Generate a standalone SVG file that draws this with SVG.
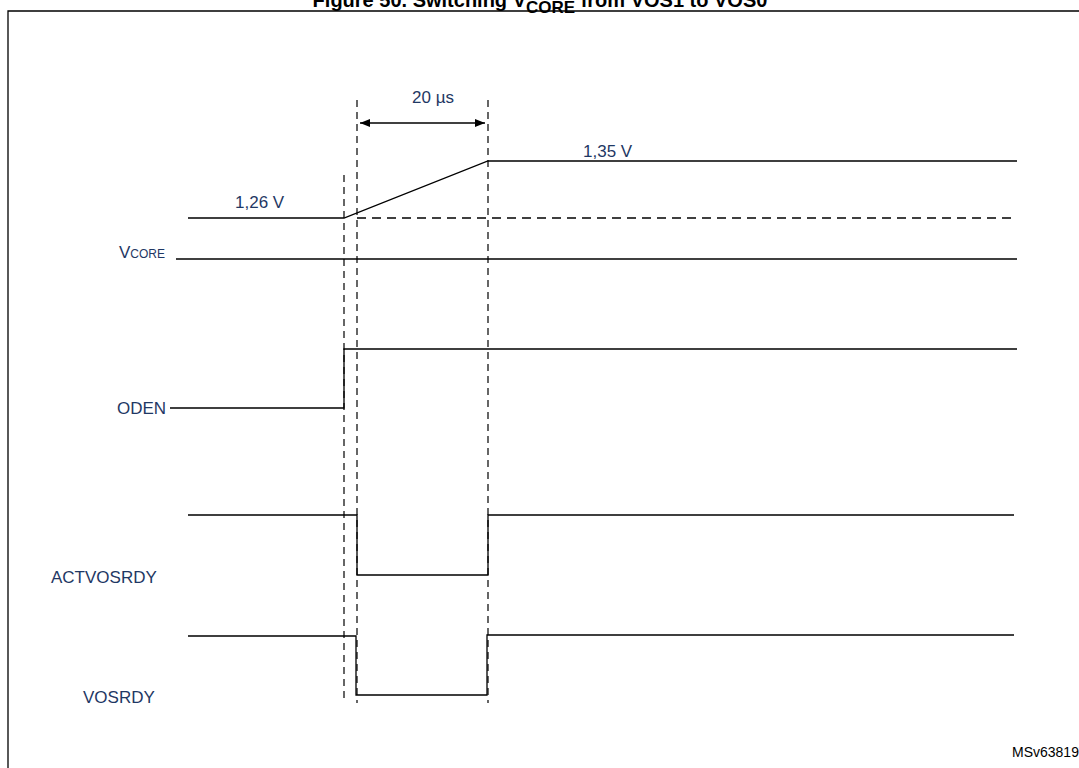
<svg xmlns="http://www.w3.org/2000/svg" width="1079" height="768" viewBox="0 0 1079 768">
<style>
.s{stroke:#000;stroke-width:1.3;fill:none}
.d{stroke:#000;stroke-width:1.2;fill:none;stroke-dasharray:7,5}
.t{font-family:"Liberation Sans",Arial,sans-serif;font-size:17px;fill:#1f3864}
</style>
<defs><marker id="a" viewBox="0 0 10 10" refX="10" refY="5" markerWidth="8" markerHeight="8" orient="auto-start-reverse"><path d="M0,1 L10,5 L0,9 z" fill="#000"/></marker></defs>
<rect width="1079" height="768" fill="#fff"/>
<text x="540" y="7" text-anchor="middle" font-family="Liberation Sans,Arial,sans-serif" font-weight="bold" font-size="20">Figure 50. Switching V<tspan font-size="17" dy="6">CORE</tspan><tspan dy="-6"> from VOS1 to VOS0</tspan></text>
<path d="M8,790 V11 H1090" class="s" stroke-width="2"/>
<g id="connectors">
<path class="d" d="M344,175 V703 M357,100 V703 M488,100 V703"/>
<path class="s" d="M360,123 H485" marker-start="url(#a)" marker-end="url(#a)"/>
</g>
<g id="vcore">
<path class="s" d="M188,218 H344 L488,161 H1017"/>
<path class="s" d="M357,218 H1017" stroke-width="2" stroke-dasharray="9,6"/>
<path class="s" d="M176,259 H1017"/>
<text class="t" x="412" y="103">20 µs</text>
<text class="t" x="583" y="157">1,35 V</text>
<text class="t" x="235" y="208">1,26 V</text>
<text class="t" x="119" y="258">V<tspan font-size="12">CORE</tspan></text>
</g>
<g id="oden">
<path class="s" d="M170,408 H344 V349 H1017"/>
<text class="t" x="117" y="414">ODEN</text>
</g>
<g id="actvosrdy">
<path class="s" d="M188,515 H357 V575 H488 V515 H1014"/>
<text class="t" x="51" y="583">ACTVOSRDY</text>
</g>
<g id="vosrdy">
<path class="s" d="M188,636 H356 V695 H487 V635 H1014"/>
<text class="t" x="83" y="703">VOSRDY</text>
</g>
<text x="1012" y="757" font-family="Liberation Sans,Arial,sans-serif" font-size="14">MSv63819V1</text>
</svg>
